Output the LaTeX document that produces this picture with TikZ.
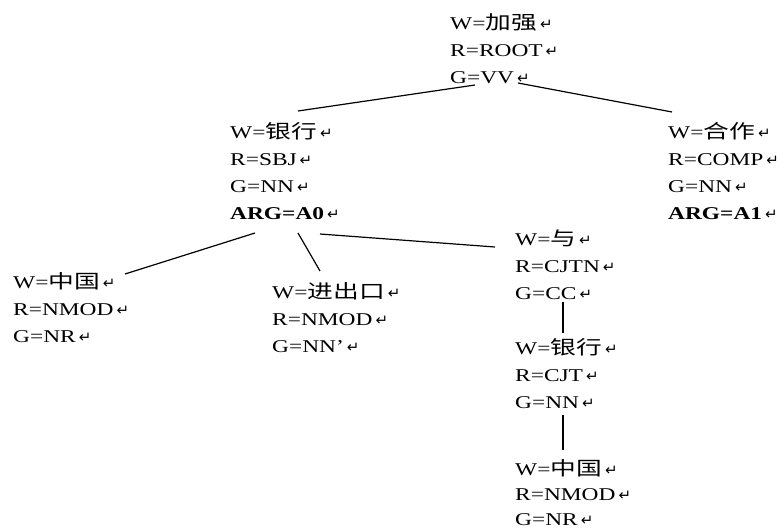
\documentclass[tikz,border=0pt]{standalone}
\usepackage{fontspec}
\setmainfont[FakeStretch=1.3]{Liberation Serif}
\newfontfamily\cjkfont[FakeStretch=1.35,Scale=1.06]{Noto Sans CJK SC}
\newfontfamily\markfont{DejaVu Sans}
\newcommand{\cn}[1]{{\cjkfont #1}}
\newcommand{\pmk}{\,{\markfont\fontsize{15}{15}\selectfont ↵}}
\newcommand{\fst}{\rule{0pt}{16pt}}
\begin{document}
\begin{tikzpicture}[x=1pt,y=-1pt,
  tn/.style={anchor=north west,inner sep=0pt,align=left,
    font=\fontsize{18}{27}\selectfont},
  tight/.style={font=\fontsize{18}{25}\selectfont},
  edge/.style={draw=black,line width=1.2pt}]
\useasboundingbox (0,0) rectangle (784,532);
\node[tn] (root) at (450,13) {\fst W=\cn{加强}\pmk\\R=ROOT\pmk\\G=VV\pmk};
\node[tn] (yh) at (230,122) {\fst W=\cn{银行}\pmk\\R=SBJ\pmk\\G=NN\pmk\\\textbf{ARG=A0}\pmk};
\node[tn] (hz) at (668,122) {\fst W=\cn{合作}\pmk\\R=COMP\pmk\\G=NN\pmk\\\textbf{ARG=A1}\pmk};
\node[tn] (zg1) at (13,272) {\fst W=\cn{中国}\pmk\\R=NMOD\pmk\\G=NR\pmk};
\node[tn] (jck) at (272,282) {\fst W=\cn{进出口}\pmk\\R=NMOD\pmk\\G=NN’\pmk};
\node[tn] (yu) at (515,229) {\fst W=\cn{与}\pmk\\R=CJTN\pmk\\G=CC\pmk};
\node[tn] (yh2) at (515,338) {\fst W=\cn{银行}\pmk\\R=CJT\pmk\\G=NN\pmk};
\node[tn,tight] (zg2) at (515,459) {\fst W=\cn{中国}\pmk\\R=NMOD\pmk\\G=NR\pmk};
\draw[edge] ([shift={(25,72)}]root.north west) -- ([shift={(68,-11)}]yh.north west);
\draw[edge] ([shift={(68,70)}]root.north west) -- ([shift={(4,-10)}]hz.north west);
\draw[edge] ([shift={(25,111)}]yh.north west) -- ([shift={(112,2)}]zg1.north west);
\draw[edge] ([shift={(68,111)}]yh.north west) -- ([shift={(48,-11)}]jck.north west);
\draw[edge] ([shift={(90,112)}]yh.north west) -- ([shift={(-20,18)}]yu.north west);
\draw[edge] ([shift={(48,73)}]yu.north west) -- ([shift={(48,-5)}]yh2.north west);
\draw[edge] ([shift={(48,77)}]yh2.north west) -- ([shift={(48,-9)}]zg2.north west);
\end{tikzpicture}
\end{document}
